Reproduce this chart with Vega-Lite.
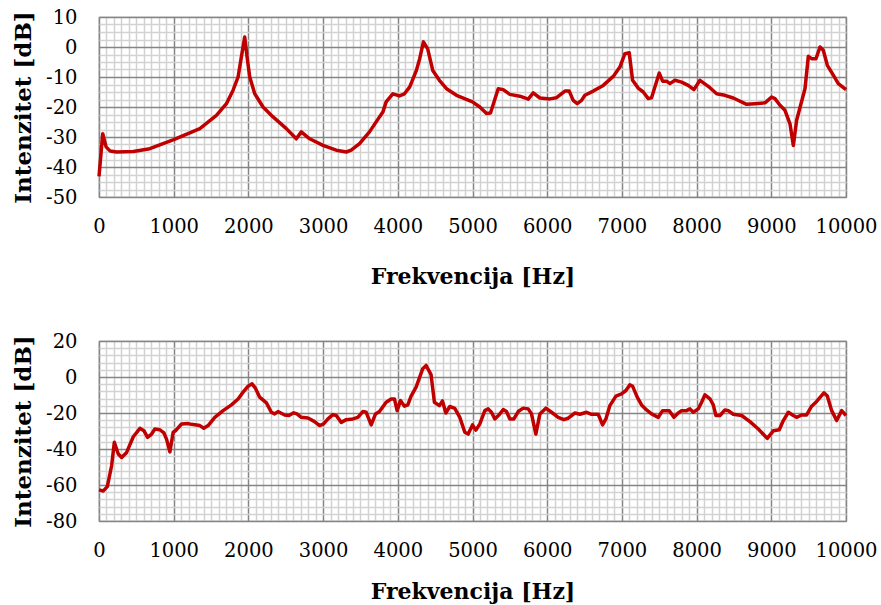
{
  "$schema": "https://vega.github.io/schema/vega-lite/v6.json",
  "padding": {"left": 11, "top": 6, "right": 5, "bottom": 0},
  "background": "white",
  "config": {
    "font": "DejaVu Serif",
    "view": {"stroke": "#8c8c8c", "strokeWidth": 1.2},
    "axis": {
      "ticks": false,
      "domain": false,
      "labelFont": "DejaVu Serif",
      "labelFontSize": 19.5,
      "labelColor": "#000",
      "labelOverlap": false,
      "labelFlush": false,
      "labelBound": false,
      "titleFont": "DejaVu Serif",
      "titleFontSize": 22,
      "titleFontWeight": "bold",
      "titleColor": "#000",
      "gridOpacity": 1
    },
    "axisY": {"titleFontSize": 23}
  },
  "datasets": {
    "top": [
      {"f":0,"db":-43.1},{"f":50,"db":-28.9},{"f":95,"db":-33.3},{"f":150,"db":-34.7},{"f":235,"db":-35},{"f":460,"db":-34.8},{"f":680,"db":-33.9},{"f":1000,"db":-30.9},{"f":1350,"db":-27.2},{"f":1572,"db":-22.8},{"f":1706,"db":-18.9},{"f":1795,"db":-14.4},{"f":1862,"db":-10},{"f":1906,"db":-3.3},{"f":1951,"db":3.3},{"f":1982,"db":-3.3},{"f":2018,"db":-10},{"f":2085,"db":-15.6},{"f":2196,"db":-20},{"f":2330,"db":-23.3},{"f":2508,"db":-27.2},{"f":2641,"db":-30.6},{"f":2708,"db":-28.3},{"f":2820,"db":-30.6},{"f":2998,"db":-32.8},{"f":3176,"db":-34.4},{"f":3310,"db":-35},{"f":3376,"db":-34.4},{"f":3488,"db":-32.2},{"f":3621,"db":-28.3},{"f":3755,"db":-23.3},{"f":3800,"db":-21.7},{"f":3844,"db":-18.3},{"f":3933,"db":-15.6},{"f":4022,"db":-16.3},{"f":4089,"db":-15.6},{"f":4160,"db":-13.3},{"f":4249,"db":-7.8},{"f":4293,"db":-3.9},{"f":4343,"db":1.7},{"f":4400,"db":-0.6},{"f":4468,"db":-7.8},{"f":4557,"db":-11.1},{"f":4652,"db":-13.9},{"f":4786,"db":-16.1},{"f":5000,"db":-18.3},{"f":5098,"db":-20},{"f":5188,"db":-22.2},{"f":5241,"db":-22},{"f":5344,"db":-13.9},{"f":5411,"db":-14.2},{"f":5500,"db":-15.8},{"f":5634,"db":-16.4},{"f":5746,"db":-17.4},{"f":5813,"db":-15.3},{"f":5902,"db":-17},{"f":6036,"db":-17.3},{"f":6125,"db":-16.9},{"f":6237,"db":-14.7},{"f":6295,"db":-14.7},{"f":6348,"db":-17.8},{"f":6402,"db":-18.9},{"f":6460,"db":-17.8},{"f":6504,"db":-16.1},{"f":6616,"db":-14.7},{"f":6750,"db":-12.8},{"f":6884,"db":-9.8},{"f":6973,"db":-6.7},{"f":7040,"db":-2.2},{"f":7098,"db":-1.9},{"f":7143,"db":-11.1},{"f":7219,"db":-13.7},{"f":7286,"db":-15},{"f":7353,"db":-17.2},{"f":7397,"db":-16.9},{"f":7500,"db":-8.7},{"f":7545,"db":-11.4},{"f":7598,"db":-11.4},{"f":7643,"db":-12.2},{"f":7710,"db":-11.1},{"f":7799,"db":-11.7},{"f":7888,"db":-12.8},{"f":7964,"db":-14.2},{"f":8045,"db":-11.1},{"f":8156,"db":-13.1},{"f":8268,"db":-15.6},{"f":8379,"db":-16.1},{"f":8491,"db":-17},{"f":8670,"db":-19.1},{"f":8781,"db":-18.9},{"f":8915,"db":-18.6},{"f":9004,"db":-16.7},{"f":9049,"db":-17.2},{"f":9116,"db":-19.4},{"f":9183,"db":-21.1},{"f":9250,"db":-25.6},{"f":9295,"db":-32.8},{"f":9339,"db":-24.4},{"f":9451,"db":-13.9},{"f":9496,"db":-3.1},{"f":9540,"db":-3.9},{"f":9598,"db":-3.9},{"f":9652,"db":0},{"f":9696,"db":-1.1},{"f":9750,"db":-6.1},{"f":9830,"db":-9.4},{"f":9897,"db":-12.2},{"f":10000,"db":-14.2}
    ],
    "bottom": [
      {"f":0,"db":-62.7},{"f":58,"db":-63.3},{"f":111,"db":-60.9},{"f":169,"db":-49.3},{"f":205,"db":-36.3},{"f":258,"db":-42.8},{"f":303,"db":-44.7},{"f":370,"db":-41.9},{"f":459,"db":-33.2},{"f":548,"db":-28.5},{"f":601,"db":-29.8},{"f":650,"db":-33.5},{"f":704,"db":-31.7},{"f":748,"db":-28.9},{"f":815,"db":-29.3},{"f":869,"db":-31.1},{"f":904,"db":-34.5},{"f":949,"db":-41.6},{"f":993,"db":-30.7},{"f":1029,"db":-29.7},{"f":1105,"db":-26.1},{"f":1194,"db":-25.9},{"f":1238,"db":-26.3},{"f":1305,"db":-26.7},{"f":1350,"db":-27},{"f":1403,"db":-28.5},{"f":1461,"db":-27},{"f":1550,"db":-22.4},{"f":1661,"db":-18.7},{"f":1773,"db":-15.5},{"f":1862,"db":-12.2},{"f":1929,"db":-8.4},{"f":1996,"db":-5.1},{"f":2049,"db":-3.8},{"f":2094,"db":-6.2},{"f":2151,"db":-11.2},{"f":2241,"db":-14.4},{"f":2307,"db":-19.6},{"f":2352,"db":-20.5},{"f":2396,"db":-19.2},{"f":2485,"db":-21.1},{"f":2543,"db":-21.4},{"f":2606,"db":-19.9},{"f":2650,"db":-20.5},{"f":2708,"db":-22.4},{"f":2797,"db":-22.8},{"f":2886,"db":-24.8},{"f":2953,"db":-27},{"f":3007,"db":-26.1},{"f":3065,"db":-23.3},{"f":3131,"db":-20.9},{"f":3176,"db":-21.4},{"f":3243,"db":-25.2},{"f":3310,"db":-23.7},{"f":3399,"db":-23.3},{"f":3465,"db":-22.4},{"f":3532,"db":-19.2},{"f":3577,"db":-19.6},{"f":3644,"db":-26.6},{"f":3702,"db":-20.5},{"f":3755,"db":-19.2},{"f":3844,"db":-14},{"f":3911,"db":-12.2},{"f":3955,"db":-12.2},{"f":3991,"db":-18.7},{"f":4036,"db":-13.1},{"f":4089,"db":-16.2},{"f":4134,"db":-15.5},{"f":4178,"db":-10.6},{"f":4245,"db":-5.6},{"f":4334,"db":4.6},{"f":4379,"db":6.4},{"f":4445,"db":1.3},{"f":4490,"db":-14},{"f":4557,"db":-15.9},{"f":4598,"db":-13.3},{"f":4643,"db":-20},{"f":4696,"db":-16.4},{"f":4763,"db":-17.4},{"f":4830,"db":-22.4},{"f":4897,"db":-30.7},{"f":4942,"db":-31.7},{"f":5000,"db":-26.6},{"f":5045,"db":-29.5},{"f":5098,"db":-26.1},{"f":5165,"db":-18.7},{"f":5210,"db":-17.7},{"f":5254,"db":-19.6},{"f":5299,"db":-23.3},{"f":5357,"db":-21},{"f":5411,"db":-18.1},{"f":5455,"db":-19.2},{"f":5500,"db":-23.3},{"f":5554,"db":-23.3},{"f":5612,"db":-19.2},{"f":5679,"db":-17.3},{"f":5746,"db":-17.7},{"f":5790,"db":-20.5},{"f":5848,"db":-31.7},{"f":5902,"db":-20.5},{"f":5982,"db":-17.3},{"f":6058,"db":-19.6},{"f":6147,"db":-22.4},{"f":6223,"db":-23.7},{"f":6281,"db":-22.9},{"f":6371,"db":-20},{"f":6438,"db":-20.7},{"f":6527,"db":-19.6},{"f":6594,"db":-20.7},{"f":6683,"db":-20.7},{"f":6741,"db":-26.6},{"f":6786,"db":-23.3},{"f":6839,"db":-15.9},{"f":6920,"db":-10.6},{"f":6995,"db":-9.4},{"f":7054,"db":-7.5},{"f":7107,"db":-4.3},{"f":7143,"db":-5.1},{"f":7205,"db":-11.2},{"f":7263,"db":-15.5},{"f":7330,"db":-18.3},{"f":7397,"db":-20.5},{"f":7487,"db":-22.4},{"f":7545,"db":-18.7},{"f":7634,"db":-18.7},{"f":7696,"db":-22.4},{"f":7754,"db":-20},{"f":7799,"db":-18.7},{"f":7866,"db":-18.7},{"f":7911,"db":-17.7},{"f":7955,"db":-19.6},{"f":8022,"db":-17.7},{"f":8067,"db":-14},{"f":8112,"db":-9.9},{"f":8179,"db":-12.1},{"f":8223,"db":-15.5},{"f":8259,"db":-21.4},{"f":8313,"db":-21.4},{"f":8379,"db":-18.3},{"f":8424,"db":-18.7},{"f":8491,"db":-20.7},{"f":8603,"db":-21.4},{"f":8714,"db":-24.8},{"f":8826,"db":-28.9},{"f":8946,"db":-34.1},{"f":9027,"db":-29.9},{"f":9107,"db":-29.3},{"f":9161,"db":-24.2},{"f":9228,"db":-19.6},{"f":9295,"db":-21.4},{"f":9339,"db":-22.4},{"f":9406,"db":-21.1},{"f":9473,"db":-21.1},{"f":9540,"db":-16.2},{"f":9607,"db":-13.6},{"f":9705,"db":-8.8},{"f":9750,"db":-10.6},{"f":9808,"db":-18.7},{"f":9875,"db":-24.2},{"f":9942,"db":-18.7},{"f":10000,"db":-21.4}
    ]
  },
  "spacing": 41,
  "vconcat": [
    {
      "width": 747,
      "height": 180,
      "data": {"name": "top"},
      "mark": {"type": "line", "color": "#C00000", "strokeWidth": 3.5, "strokeJoin": "round"},
      "encoding": {
        "x": {
          "field": "f", "type": "quantitative",
          "scale": {"domain": [0, 10000], "nice": false},
          "axis": {
            "title": "Frekvencija [Hz]",
            "tickCount": 100,
            "labelPadding": 20,
            "titlePadding": 31,
            "labelExpr": "datum.value % 1000 === 0 ? '' + datum.value : ''",
            "gridColor": {"condition": {"test": "datum.value % 1000 === 0", "value": "#858585"}, "value": "#d2d2d2"},
            "gridWidth": 1.5
          }
        },
        "y": {
          "field": "db", "type": "quantitative",
          "scale": {"domain": [-50, 10], "nice": false},
          "axis": {
            "title": "Intenzitet [dB]",
            "values": [-50,-47.5,-45,-42.5,-40,-37.5,-35,-32.5,-30,-27.5,-25,-22.5,-20,-17.5,-15,-12.5,-10,-7.5,-5,-2.5,0,2.5,5,7.5,10],
            "labelPadding": 22,
            "titlePadding": 10,
            "labelExpr": "datum.value % 10 === 0 ? '' + datum.value : ''",
            "gridColor": {"condition": {"test": "datum.value % 10 === 0", "value": "#858585"}, "value": "#d2d2d2"},
            "gridWidth": 1.5
          }
        }
      }
    },
    {
      "width": 747,
      "height": 180,
      "data": {"name": "bottom"},
      "mark": {"type": "line", "color": "#C00000", "strokeWidth": 3.5, "strokeJoin": "round"},
      "encoding": {
        "x": {
          "field": "f", "type": "quantitative",
          "scale": {"domain": [0, 10000], "nice": false},
          "axis": {
            "title": "Frekvencija [Hz]",
            "tickCount": 100,
            "labelPadding": 20,
            "titlePadding": 22,
            "labelExpr": "datum.value % 1000 === 0 ? '' + datum.value : ''",
            "gridColor": {"condition": {"test": "datum.value % 1000 === 0", "value": "#858585"}, "value": "#d2d2d2"},
            "gridWidth": 1.5
          }
        },
        "y": {
          "field": "db", "type": "quantitative",
          "scale": {"domain": [-80, 20], "nice": false},
          "axis": {
            "title": "Intenzitet [dB]",
            "values": [-80,-76,-72,-68,-64,-60,-56,-52,-48,-44,-40,-36,-32,-28,-24,-20,-16,-12,-8,-4,0,4,8,12,16,20],
            "labelPadding": 22,
            "titlePadding": 10,
            "labelExpr": "datum.value % 20 === 0 ? '' + datum.value : ''",
            "gridColor": {"condition": {"test": "datum.value % 20 === 0", "value": "#858585"}, "value": "#d2d2d2"},
            "gridWidth": 1.5
          }
        }
      }
    }
  ]
}
